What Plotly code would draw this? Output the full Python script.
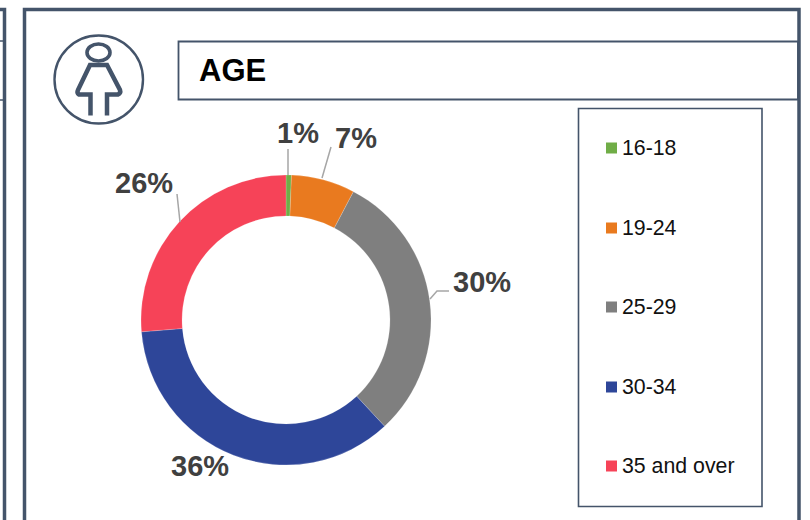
import plotly.graph_objects as go

categories = ["16-18", "19-24", "25-29", "30-34", "35 and over"]
values = [0.6, 7.1, 30.4, 35.6, 26.3]
value_labels = ["1%", "7%", "30%", "36%", "26%"]
colors = ["#70AD47", "#E97A1F", "#7F7F7F", "#2E4699", "#F64358"]
title_text = "AGE"

FRAME = "#44546A"
W, H = 810, 520

# label and legend placement, in pixels
label_xy = [(297.5, 133), (355.5, 138), (481.5, 282), (199.5, 466), (143.5, 183)]
leaders = [
    "M288,149 L288,175",
    "M331,147 L322,178",
    "M449,291 L437,291 L430,299",
    "M177,194 L180,222",
]
legend_y = [148, 228, 307, 387, 466]

fig = go.Figure()
fig.add_trace(go.Pie(
    labels=categories, values=values, sort=False, direction="clockwise",
    rotation=0, hole=0.717, textinfo="none", showlegend=False,
    marker=dict(colors=colors, line=dict(color="rgba(255,255,255,0.6)", width=0.3)),
    domain=dict(x=[141 / W, 431 / W], y=[1 - 465 / H, 1 - 175 / H]),
))

shapes = []
def rect(x0, y0, x1, y1, w, color=FRAME, fill=None):
    shapes.append(dict(type="rect", xref="x", yref="y", x0=x0, y0=y0, x1=x1, y1=y1,
                       line=dict(color=color, width=w),
                       fillcolor=fill if fill else "rgba(0,0,0,0)"))
def path(d, w, color=FRAME):
    shapes.append(dict(type="path", xref="x", yref="y", path=d,
                       line=dict(color=color, width=w)))

# panels
rect(-40, 9.5, 4.5, 560, 3.5)
path("M0,41 L4,41", 1.5)
path("M0,100 L4,100", 1.5)
rect(24.5, 9.5, 799, 560, 3.5)
# header box
rect(178.5, 41.5, 798, 99.5, 1.8)
# legend box
rect(578.5, 108.5, 762, 506.5, 1.6)
# icon
shapes.append(dict(type="circle", xref="x", yref="y", x0=54.5, y0=35.5, x1=143, y1=123.5,
                   line=dict(color=FRAME, width=2.4)))
shapes.append(dict(type="circle", xref="x", yref="y", x0=87, y0=44, x1=110, y1=61,
                   line=dict(color=FRAME, width=3.6)))
path("M90.5,115.5 L90.5,94.5 L79,94.5 Q76.5,93 78,90 L90,65 L107,65 L120,90 Q121,93 118,94.5 L107,94.5 L107,115.5", 4.5)
# leader lines
for d in leaders:
    path(d, 1.5, "#A6A6A6")
# legend swatches
for y, c in zip(legend_y, colors):
    rect(606, y - 5.5, 617, y + 5.5, 0, c, c)

annotations = [dict(x=197, y=70.5, text=f"<b>{title_text}</b>", xref="x", yref="y", showarrow=False,
                    xanchor="left", yanchor="middle",
                    font=dict(family="Liberation Sans", size=31, color="#000000"))]
for (x, y), t in zip(label_xy, value_labels):
    annotations.append(dict(x=x, y=y, text=f"<b>{t}</b>", xref="x", yref="y", showarrow=False,
                            xanchor="center", yanchor="middle",
                            font=dict(family="Liberation Sans", size=29, color="#404040")))
for y, c in zip(legend_y, categories):
    annotations.append(dict(x=620, y=y, text=c, xref="x", yref="y", showarrow=False,
                            xanchor="left", yanchor="middle",
                            font=dict(family="Liberation Sans", size=21.3, color="#111111")))

fig.update_layout(
    width=W, height=H, margin=dict(l=0, r=0, t=0, b=0),
    paper_bgcolor="white", plot_bgcolor="white",
    xaxis=dict(range=[0, W], visible=False, domain=[0, 1], fixedrange=True),
    yaxis=dict(range=[H, 0], visible=False, domain=[0, 1], fixedrange=True),
    shapes=shapes, annotations=annotations,
)
fig.write_html("out.html", config=dict(displayModeBar=False),
               post_script="document.body.style.margin='0';document.documentElement.style.overflow='hidden';")
